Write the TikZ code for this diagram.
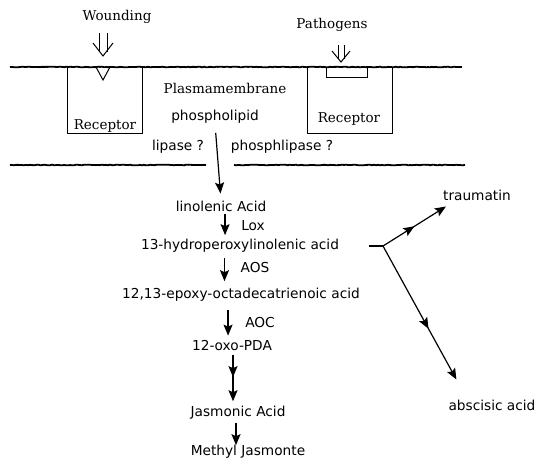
\documentclass[tikz,border=0pt]{standalone}
\usepackage{fontspec}
\newfontfamily\pathsans{DejaVu Sans}
\newfontfamily\pathserif{DejaVu Serif}
\usetikzlibrary{arrows.meta, positioning, decorations.markings, decorations.pathmorphing}

\begin{document}
\begin{tikzpicture}[x=1pt, y=-1pt,
    lbl/.style={inner sep=0pt, font=\pathserif\fontsize{13.5}{16}\selectfont},
    chem/.style={inner sep=0pt, font=\pathsans\fontsize{13.7}{16}\selectfont},
    membr/.style={line width=1.8pt, decorate,
                  decoration={random steps, segment length=2pt, amplitude=0.35pt}},
    rbox/.style={line width=1pt},
    arr/.style={-{Stealth[length=11pt, width=9pt, inset=2pt]}, line width=1.2pt},
    midarr/.style={postaction={decorate}, decoration={markings,
                   mark=at position #1 with {\arrow{Stealth[length=11pt, width=9pt, inset=2pt]}}}},
    midarr/.default=0.5]
    \useasboundingbox (0,0) rectangle (538,461);

    % membrane and receptors
    \draw[membr] (10,67) -- (462,67);
    \draw[membr] (10,165) -- (206,165);
    \draw[membr] (234,165) -- (465,165);
    \draw[rbox] (67,67) -- (67,133) -- (142,133) -- (142,67);
    \draw[rbox] (96,67) -- (103,80) -- (110,67);
    \draw[rbox] (307,67) -- (307,133) -- (392,133) -- (392,67);
    \draw[rbox] (326,67) -- (326,77) -- (367,77) -- (367,67);

    \node[lbl] (wound) at (117,17) {Wounding};
    \node[lbl] (patho) at (332,25) {Pathogens};
    \node[lbl] (recL) at (105,126) {Receptor};
    \node[lbl] (recR) at (349,119) {Receptor};
    \node[lbl] (plasma) at (225,88) {Plasmamembrane};

    % incoming signals (double arrows)
    \coordinate (wsite) at (103,56);
    \coordinate (psite) at (341,62);
    \draw[rbox] (wsite) ++(-4,-23) -- ++(0,19) (wsite) ++(4,-23) -- ++(0,19);
    \draw[rbox, line join=miter] (wsite) ++(-10,-13) -- (wsite) -- ++(10,-13);
    \draw[rbox] (psite) ++(-3,-17) -- ++(0,14) (psite) ++(3,-17) -- ++(0,14);
    \draw[rbox, line join=miter] (psite) ++(-9,-11) -- (psite) -- ++(9,-11);

    % pathway
    \node[chem] (phos) at (215,117) {phospholipid};
    \node[chem] (lipL) at (178,147) {lipase ?};
    \node[chem] (lipR) at (282,147) {phosphlipase ?};
    \node[chem] (lin) at (221,206) {linolenic Acid};
    \node[chem] (lox) at (253,226) {Lox};
    \node[chem] (hpot) at (240,246) {13-hydroperoxylinolenic acid};
    \node[chem] (aos) at (255,268) {AOS};
    \node[chem] (eot) at (241,295) {12,13-epoxy-octadecatrienoic acid};
    \node[chem] (aoc) at (260,323) {AOC};
    \node[chem] (opda) at (232,346) {12-oxo-PDA};
    \node[chem] (ja) at (238,413) {Jasmonic Acid};
    \node[chem] (meja) at (248,452) {Methyl Jasmonte};
    \node[chem] (traum) at (477,195) {traumatin};
    \node[chem] (aba) at (492,405) {abscisic acid};

    \draw[arr, shorten <=9pt, shorten >=7pt] (phos.south) -- (lin.north);
    \draw[arr, shorten <=2pt, shorten >=4pt] ([xshift=-16pt]lox.west |- lin.south) -- ([xshift=-16pt]lox.west |- hpot.north);
    \draw[arr, shorten <=5pt, shorten >=7pt] ([xshift=-16pt]aos.west |- hpot.south) -- ([xshift=-16pt]aos.west |- eot.north);
    \draw[arr, shorten <=8pt, shorten >=5pt] ([xshift=-17pt]aoc.west |- eot.south) -- ([xshift=-17pt]aoc.west |- opda.north);
    \draw[arr, midarr=0.47, shorten <=4pt, shorten >=5pt] ([xshift=1pt]opda.south) -- ([xshift=1pt]opda.south |- ja.north);
    \draw[arr, shorten <=3pt] ([xshift=-2pt]ja.south) -- ([xshift=-2pt]ja.south |- meja.north);

    % side branches
    \coordinate (fork) at (383,246);
    \draw[line width=1.1pt] ([xshift=30pt]hpot.east) -- (fork);
    \draw[arr, midarr] (fork) -- ([xshift=3pt, yshift=-6pt]traum.south west);
    \draw[arr, midarr=0.62] (fork) -- ([xshift=8pt, yshift=20pt]aba.north west);
\end{tikzpicture}
\end{document}
